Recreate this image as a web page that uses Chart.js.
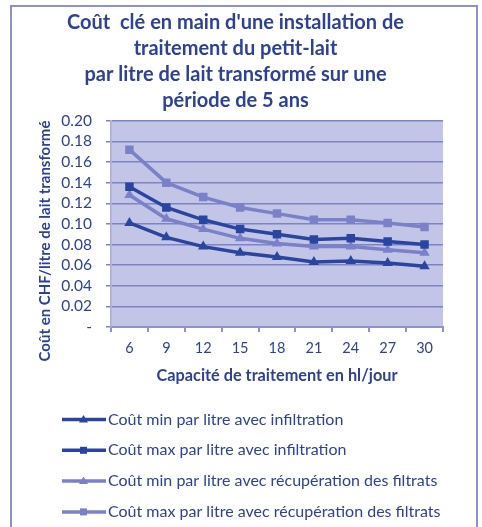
<!DOCTYPE html>
<html>
<head>
<meta charset="utf-8">
<script src="https://cdn.jsdelivr.net/npm/chart.js@4.4.1/dist/chart.umd.min.js"></script>
<style>
html,body{margin:0;padding:0;background:#fff;}
#wrap{position:absolute;left:0;top:0;width:482px;height:527px;}
</style>
</head>
<body>
<div id="wrap"><canvas id="c" width="482" height="527"></canvas></div>
<script>
const categories = ['6','9','12','15','18','21','24','27','30'];
const seriesNames = [
  'Coût min par litre avec infiltration',
  'Coût max par litre avec infiltration',
  'Coût min par litre avec récupération des filtrats',
  'Coût max par litre avec récupération des filtrats'
];
const minInfiltration = [0.101, 0.087, 0.078, 0.072, 0.068, 0.063, 0.064, 0.062, 0.059];
const maxInfiltration = [0.136, 0.116, 0.104, 0.095, 0.090, 0.085, 0.086, 0.083, 0.080];
const minRecuperation = [0.128, 0.105, 0.095, 0.086, 0.081, 0.078, 0.078, 0.075, 0.072];
const maxRecuperation = [0.172, 0.140, 0.126, 0.116, 0.110, 0.104, 0.104, 0.101, 0.097];
const titleLines = [
  "Coût  clé en main d'une installation de",
  'traitement du petit-lait',
  'par litre de lait transformé sur une',
  'période de 5 ans'
];
const xTitle = 'Capacité de traitement en hl/jour';
const yTitle = 'Coût en CHF/litre de lait transformé';

const DARK = '#2a45a0';
const LIGHT = '#7a81c9';
const TEXT = '#2d4295';
const FONT = 'Lato, "Open Sans", sans-serif';

const bgPlugin = {
  id: 'bgPlugin',
  beforeDraw(chart) {
    const {ctx, chartArea: a} = chart;
    ctx.save();
    ctx.fillStyle = '#ffffff';
    ctx.fillRect(0, 0, chart.width, chart.height);
    ctx.strokeStyle = '#8d91d2';
    ctx.lineWidth = 2;
    ctx.strokeRect(11, 6, 466, 540);
    ctx.fillStyle = '#c3c5e6';
    ctx.fillRect(a.left, a.top, a.right - a.left, a.bottom - a.top);
    ctx.restore();
  }
};

const textPlugin = {
  id: 'customText',
  afterDraw(chart) {
    const ctx = chart.ctx;
    ctx.save();
    ctx.translate(45, 241);
    ctx.rotate(-Math.PI / 2);
    ctx.font = 'bold 15px ' + FONT;
    ctx.fillStyle = TEXT;
    ctx.textAlign = 'center';
    ctx.textBaseline = 'middle';
    ctx.fillText(yTitle, 0, 0);
    ctx.restore();

    ctx.save();
    ctx.font = '16px ' + FONT;
    ctx.textBaseline = 'middle';
    chart.data.datasets.forEach((ds, i) => {
      const y = 419.5 + i * 30.8;
      ctx.strokeStyle = ds.borderColor;
      ctx.lineWidth = 3.5;
      ctx.beginPath();
      ctx.moveTo(62, y);
      ctx.lineTo(106, y);
      ctx.stroke();
      ctx.fillStyle = ds.borderColor;
      if (ds.pointStyle === 'rect') {
        ctx.fillRect(80, y - 3.5, 7, 7);
      } else {
        ctx.beginPath();
        ctx.moveTo(83.5, y - 4.5);
        ctx.lineTo(88, y + 3);
        ctx.lineTo(79, y + 3);
        ctx.closePath();
        ctx.fill();
      }
      ctx.fillStyle = TEXT;
      ctx.fillText(ds.label, 108, y);
    });
    ctx.restore();
  }
};

const mk = (label, data, color, style) => ({
  label, data,
  borderColor: color, backgroundColor: color,
  borderWidth: 3.5,
  pointStyle: style,
  pointRadius: 6,
  pointBorderWidth: 0,
  tension: 0
});

new Chart(document.getElementById('c'), {
  type: 'line',
  data: {
    labels: categories,
    datasets: [
      mk(seriesNames[0], minInfiltration, DARK, 'triangle'),
      mk(seriesNames[1], maxInfiltration, DARK, 'rect'),
      mk(seriesNames[2], minRecuperation, LIGHT, 'triangle'),
      mk(seriesNames[3], maxRecuperation, LIGHT, 'rect')
    ]
  },
  options: {
    responsive: false,
    animation: false,
    devicePixelRatio: 1,
    layout: {padding: {left: 28, right: 39, top: 0, bottom: 141}},
    plugins: {
      legend: {display: false},
      tooltip: {enabled: false},
      title: {
        display: true,
        text: titleLines,
        color: TEXT,
        font: {family: FONT, size: 20, weight: 'bold', lineHeight: 1.31},
        padding: {top: 9, bottom: 7}
      }
    },
    scales: {
      x: {
        offset: true,
        grid: {display: true, offset: true, drawOnChartArea: false, drawTicks: true, tickLength: 5, color: '#8d91d2', lineWidth: 2},
        border: {display: true, color: '#8d91d2', width: 2},
        ticks: {color: TEXT, font: {family: FONT, size: 14.5}, padding: 8, maxRotation: 0, autoSkip: false},
        title: {display: true, text: xTitle, color: TEXT, font: {family: FONT, size: 16.3, weight: 'bold'}, padding: {top: 1, bottom: 0}}
      },
      y: {
        min: 0, max: 0.2,
        afterFit(s) { s.width = 83; },
        ticks: {
          stepSize: 0.02, autoSkip: false, color: TEXT, font: {family: FONT, size: 15.5}, padding: 14,
          callback: v => (Math.abs(v) < 1e-9 ? '-' : v.toFixed(2))
        },
        grid: {color: '#7d83c6', lineWidth: 1.5, tickLength: 5},
        border: {display: true, color: '#a9acdc', width: 1.5},
        title: {display: false}
      }
    }
  },
  plugins: [bgPlugin, textPlugin]
});
</script>
</body>
</html>
